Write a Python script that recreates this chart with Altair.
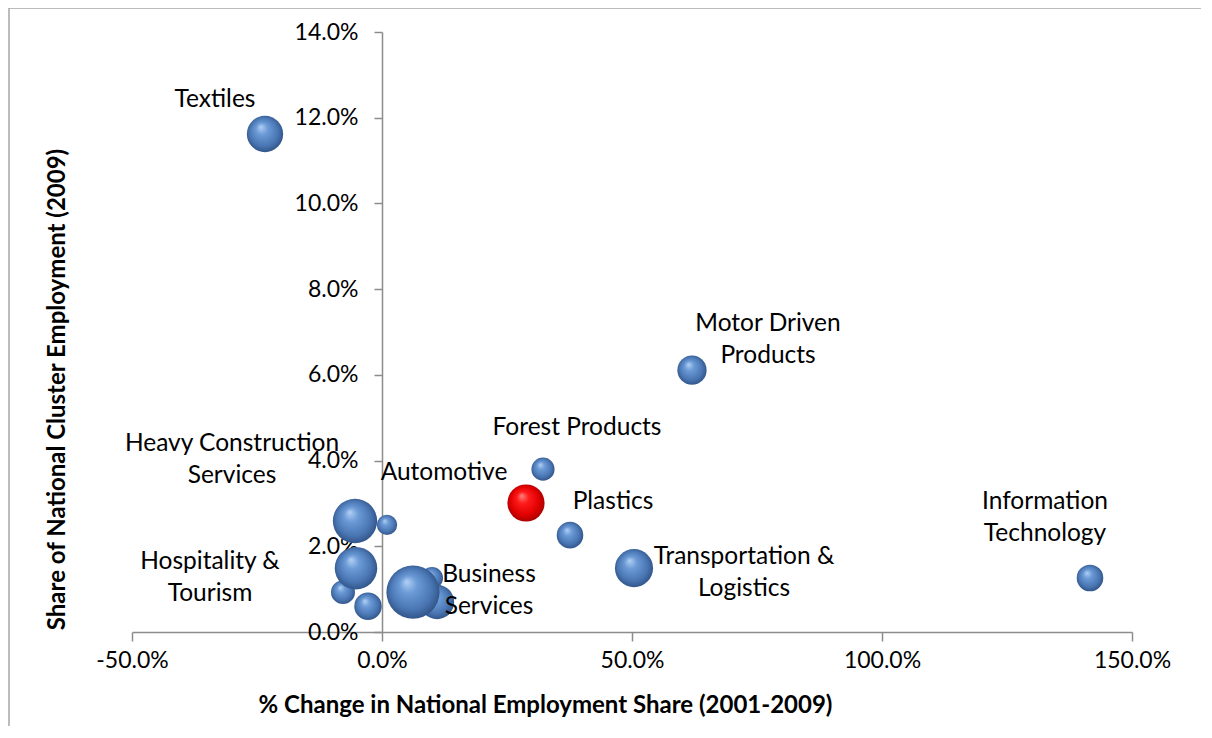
import altair as alt
import pandas as pd

# Bubble data: x = % change in national employment share, y = share of national cluster employment (%)
bubble_x = [-23.4, 62.0, 32.2, 37.6, 50.4, 141.6, 1.0, 10.0, 11.0, -7.8, -2.8, -5.2, -5.4, 6.2]
bubble_y = [11.62, 6.11, 3.80, 2.26, 1.49, 1.26, 2.50, 1.26, 0.70, 0.93, 0.60, 1.49, 2.59, 0.93]
bubble_emp = [16.8, 10.9, 6.8, 9.0, 18.5, 9.0, 5.3, 6.2, 15.0, 7.3, 9.6, 23.0, 25.0, 36.0]

# Highlighted cluster (Automotive)
hl_x = [28.8]
hl_y = [3.01]
hl_emp = [17.6]

# Labels (anchor = centre of first line)
label_text = ["Textiles", "Motor Driven\nProducts", "Forest Products", "Heavy Construction\nServices",
              "Automotive", "Plastics", "Hospitality &\nTourism", "Business\nServices",
              "Transportation &\nLogistics", "Information\nTechnology"]
label_x = [-33.4, 77.2, 39.0, -30.0, 12.4, 46.2, -34.4, 21.4, 72.4, 132.6]
label_y = [12.41, 7.19, 4.76, 4.39, 3.71, 3.03, 1.63, 1.33, 1.75, 3.03]

x_ticks = [-50, 0, 50, 100, 150]
y_ticks = [0, 2, 4, 6, 8, 10, 12, 14]

FONT = "Lato"
AXIS_GRAY = "#8c8c8c"
LABEL_EXPR = "(datum.value < 0 ? '-' : '') + format(abs(datum.value), '.1f') + '%'"

bub = pd.DataFrame({"x": bubble_x, "y": bubble_y, "emp": bubble_emp,
                    "idx": list(range(len(bubble_x)))})
hl = pd.DataFrame({"x": hl_x, "y": hl_y, "emp": hl_emp})
lab = pd.DataFrame({"x": label_x, "y": label_y, "t": label_text})

xscale = alt.Scale(domain=[-50, 150], nice=False, zero=False)
yscale = alt.Scale(domain=[0, 14], nice=False)
sscale = alt.Scale(domain=[0, 36], range=[0, 2827])

blue_grad = {
    "gradient": "radial", "x1": 0.38, "y1": 0.3, "r1": 0.0,
    "x2": 0.5, "y2": 0.5, "r2": 0.55,
    "stops": [
        {"offset": 0.0, "color": "#b3d1f5"},
        {"offset": 0.3, "color": "#6b9ad6"},
        {"offset": 0.7, "color": "#4a77b4"},
        {"offset": 1.0, "color": "#2c4d7e"},
    ],
}
red_grad = {
    "gradient": "radial", "x1": 0.38, "y1": 0.3, "r1": 0.0,
    "x2": 0.5, "y2": 0.5, "r2": 0.55,
    "stops": [
        {"offset": 0.0, "color": "#ff8080"},
        {"offset": 0.3, "color": "#ff1a1a"},
        {"offset": 0.7, "color": "#e00000"},
        {"offset": 1.0, "color": "#9a0000"},
    ],
}

x_axis = alt.Axis(
    values=x_ticks, grid=False, labelExpr=LABEL_EXPR,
    title="% Change in National Employment Share (2001-2009)",
    domainColor=AXIS_GRAY, domainWidth=1.5, tickColor=AXIS_GRAY, tickWidth=1.5, tickSize=9,
    labelFont=FONT, labelFontSize=23, labelColor="black", labelPadding=8,
    titleFont=FONT, titleFontSize=24, titleFontWeight="bold", titleColor="black",
    titleX=413, titleY=73, titleAlign="center", titleBaseline="middle", titleAnchor="middle",
    labelFlush=False,
)
y_axis = alt.Axis(
    values=y_ticks, grid=False, labelExpr=LABEL_EXPR,
    title="Share of National Cluster Employment (2009)", offset=-250,
    domainColor=AXIS_GRAY, domainWidth=1.5, tickColor=AXIS_GRAY, tickWidth=1.5, tickSize=8,
    labelFont=FONT, labelFontSize=23, labelColor="black", labelPadding=16,
    titleFont=FONT, titleFontSize=24, titleFontWeight="bold", titleColor="black",
    titleX=-325, titleY=357, titleAngle=-90, titleAlign="center", titleBaseline="middle",
    labelFlush=False,
)

base_blue = alt.Chart(bub).mark_circle(fill=blue_grad, opacity=1, fillOpacity=1).encode(
    x=alt.X("x:Q", scale=xscale, axis=x_axis),
    y=alt.Y("y:Q", scale=yscale, axis=y_axis),
    size=alt.Size("emp:Q", scale=sscale, legend=None),
    order=alt.Order("idx:Q"),
)

red = alt.Chart(hl).mark_circle(fill=red_grad, opacity=1, fillOpacity=1).encode(
    x=alt.X("x:Q", scale=xscale),
    y=alt.Y("y:Q", scale=yscale),
    size=alt.Size("emp:Q", scale=sscale, legend=None),
)

labels = alt.Chart(lab).mark_text(
    font=FONT, fontSize=24.5, color="black", align="center", baseline="middle",
    lineBreak="\n", lineHeight=32,
).encode(
    x=alt.X("x:Q", scale=xscale),
    y=alt.Y("y:Q", scale=yscale),
    text="t:N",
)

one = pd.DataFrame({"a": [0]})
border_left = alt.Chart(one).mark_rule(color="#a6a6a6", strokeWidth=1.5, clip=False).encode(
    x=alt.value(-123), y=alt.value(-24), y2=alt.value(694)
)
border_top = alt.Chart(one).mark_rule(color="#a6a6a6", strokeWidth=1.5, clip=False).encode(
    x=alt.value(-123), x2=alt.value(1069), y=alt.value(-24)
)

chart = alt.layer(border_left, border_top, base_blue, red, labels).properties(
    width=1000, height=600,
    autosize=alt.AutoSizeParams(type="none"),
    padding={"left": 124, "top": 24, "right": 70, "bottom": 95},
    background="white",
).configure_view(stroke=None)

chart.save("out.html", embed_options={"renderer": "svg", "actions": False})
